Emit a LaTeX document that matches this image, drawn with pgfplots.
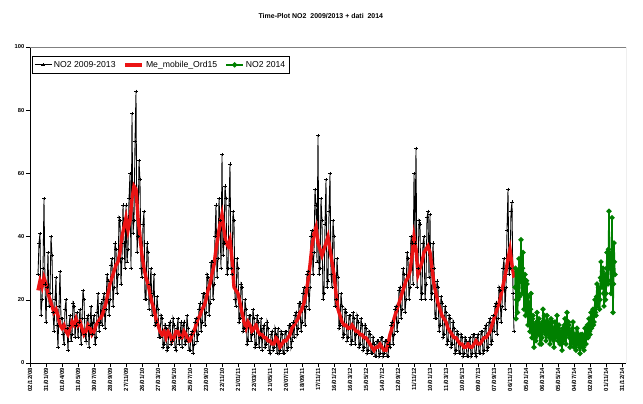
\documentclass[border=0pt]{standalone}
\usepackage{fontspec}
\setmainfont{Liberation Sans}
\usepackage{pgfplots}
\pgfplotsset{compat=1.18}
\definecolor{myred}{RGB}{235,20,20}
\definecolor{mygreen}{RGB}{0,128,0}
\begin{document}
\begin{tikzpicture}
\useasboundingbox (0,0) rectangle (643bp,404bp);
\begin{axis}[
  at={(30bp,41bp)}, anchor=south west,
  scale only axis, width=596bp, height=316bp,
  xmin=-1, xmax=73.5, ymin=0, ymax=100,
  axis lines=left, axis line style={-, black, line width=0.6bp},
  tick align=outside, major tick length=4bp,
  tick style={black, line width=0.5bp},
  ytick={0,20,40,60,80,100},
  xtick={-1,1,3,5,7,9,11,13,15,17,19,21,23,25,27,29,31,33,35,37,39,41,43,45,47,49,51,53,55,57,59,61,63,65,67,69,71,73},
  xticklabels={02/12/08,31/01/09,01/04/09,31/05/09,30/07/09,28/09/09,27/11/09,26/01/10,27/03/10,26/05/10,25/07/10,23/09/10,22/11/10,21/01/11,22/03/11,21/05/11,20/07/11,18/09/11,17/11/11,16/01/12,16/03/12,15/05/12,14/07/12,12/09/12,11/11/12,10/01/13,11/03/13,10/05/13,09/07/13,07/09/13,06/11/13,05/01/14,06/03/14,05/05/14,04/07/14,02/09/14,01/11/14,31/12/14},
  /pgf/number format/assume math mode=true,
  xticklabel style={rotate=90, anchor=east, font=\bfseries\fontsize{6}{7}\selectfont, inner sep=1bp},
  yticklabel style={font=\bfseries\fontsize{5.8}{7}\selectfont, inner sep=1.5bp},
  title={Time-Plot NO2\ \ 2009/2013 + dati\ \ 2014},
  title style={at={(0.488,1)}, anchor=center, yshift=25bp, font=\bfseries\fontsize{7}{8}\selectfont},
  legend columns=3,
  legend style={at={(0.003,0.971)}, anchor=north west, draw=black, line width=0.6bp,
    font=\fontsize{8.7}{10}\selectfont, inner xsep=2bp, inner ysep=2.5bp,
    /tikz/every even column/.append style={column sep=6bp}},
  legend cell align=left,
]
\draw[gray, line width=0.6bp] (rel axis cs:0,1) -- (rel axis cs:1,1) -- (rel axis cs:1,0);
\addplot[black, line width=0.85bp, mark=+, mark size=1.6bp, mark options={line width=0.6bp}] coordinates {
(0,28)(0.125,38)(0.25,41)(0.375,15)(0.5,20)(0.625,30)(0.75,52)(0.875,25)
(1,13)(1.125,24)(1.25,35)(1.375,18)(1.5,22)(1.625,40)(1.75,34)(1.875,16)
(2,10)(2.125,20)(2.25,27)(2.375,12)(2.5,5)(2.625,18)(2.75,29)(2.875,14)
(3,14)(3.125,9)(3.25,6)(3.375,17)(3.5,20)(3.625,11)(3.75,4)(3.875,12)
(4,15)(4.125,7)(4.25,9)(4.375,19)(4.5,18)(4.625,8)(4.75,12)(4.875,16)
(5,8)(5.125,13)(5.25,17)(5.375,6)(5.5,14)(5.625,23)(5.75,20)(5.875,9)
(6,7)(6.125,14)(6.25,15)(6.375,5)(6.5,12)(6.625,18)(6.75,9)(6.875,13)
(7,15)(7.125,6)(7.25,8)(7.375,16)(7.5,22)(7.625,10)(7.75,13)(7.875,19)
(8,12)(8.125,20)(8.25,22)(8.375,11)(8.5,17)(8.625,28)(8.75,26)(8.875,15)
(9,20)(9.125,31)(9.25,33)(9.375,18)(9.5,24)(9.625,38)(9.75,36)(9.875,22)
(10,28)(10.125,46)(10.25,45)(10.375,25)(10.5,33)(10.625,50)(10.75,38)(10.875,30)
(11,50)(11.125,32)(11.25,36)(11.375,52)(11.5,60)(11.625,30)(11.75,79)(11.875,41)
(12,45)(12.125,70)(12.25,86)(12.375,35)(12.5,40)(12.625,64)(12.75,58)(12.875,30)
(13,27)(13.125,44)(13.25,48)(13.375,20)(13.5,20)(13.625,38)(13.75,35)(13.875,17)
(14,25)(14.125,30)(14.25,15)(14.375,22)(14.5,28)(14.625,12)(14.75,13)(14.875,21)
(15,17)(15.125,8)(15.25,8)(15.375,15)(15.5,14)(15.625,5)(15.75,6)(15.875,12)
(16,11)(16.125,4)(16.25,5)(16.375,12)(16.5,13)(16.625,6)(16.75,7)(16.875,14)
(17,12)(17.125,5)(17.25,4)(17.375,11)(17.5,14)(17.625,6)(17.75,8)(17.875,13)
(18,5)(18.125,12)(18.25,13)(18.375,6)(18.5,7)(18.625,15)(18.75,11)(18.875,4)
(19,4)(19.125,9)(19.25,10)(19.375,3)(19.5,6)(19.625,13)(19.75,14)(19.875,7)
(20,9)(20.125,17)(20.25,19)(20.375,10)(20.5,13)(20.625,22)(20.75,22)(20.875,12)
(21,16)(21.125,28)(21.25,27)(21.375,15)(21.5,19)(21.625,32)(21.75,32)(21.875,20)
(22,25)(22.125,40)(22.25,50)(22.375,27)(22.5,33)(22.625,52)(22.75,45)(22.875,30)
(23,66)(23.125,34)(23.25,38)(23.375,56)(23.5,52)(23.625,28)(23.75,30)(23.875,50)
(24,63)(24.125,30)(24.25,28)(24.375,48)(24.5,45)(24.625,20)(24.75,18)(24.875,33)
(25,30)(25.125,13)(25.25,14)(25.375,25)(25.5,24)(25.625,10)(25.75,11)(25.875,20)
(26,17)(26.125,6)(26.25,7)(26.375,15)(26.5,15)(26.625,7)(26.75,9)(26.875,17)
(27,14)(27.125,5)(27.25,6)(27.375,15)(27.5,13)(27.625,5)(27.75,8)(27.875,14)
(28,4)(28.125,11)(28.25,12)(28.375,5)(28.5,6)(28.625,13)(28.75,11)(28.875,4)
(29,3)(29.125,9)(29.25,10)(29.375,4)(29.5,5)(29.625,11)(29.75,9)(29.875,3)
(30,11)(30.125,3)(30.25,4)(30.375,10)(30.5,9)(30.625,3)(30.75,3)(30.875,10)
(31,10)(31.125,4)(31.25,5)(31.375,12)(31.5,12)(31.625,5)(31.75,7)(31.875,13)
(32,8)(32.125,15)(32.25,16)(32.375,9)(32.5,11)(32.625,19)(32.75,19)(32.875,10)
(33,13)(33.125,22)(33.25,24)(33.375,12)(33.5,18)(33.625,28)(33.75,29)(33.875,17)
(34,24)(34.125,40)(34.25,42)(34.375,28)(34.5,35)(34.625,55)(34.75,50)(34.875,32)
(35,72)(35.125,28)(35.25,30)(35.375,52)(35.5,45)(35.625,20)(35.75,22)(35.875,44)
(36,58)(36.125,24)(36.25,26)(36.375,48)(36.5,60)(36.625,28)(36.75,24)(36.875,45)
(37,40)(37.125,18)(37.25,20)(37.375,33)(37.5,27)(37.625,11)(37.75,12)(37.875,22)
(38,18)(38.125,8)(38.25,9)(38.375,17)(38.5,16)(38.625,7)(38.75,8)(38.875,15)
(39,15)(39.125,6)(39.25,7)(39.375,16)(39.5,14)(39.625,6)(39.75,9)(39.875,15)
(40,13)(40.125,5)(40.25,6)(40.375,14)(40.5,12)(40.625,4)(40.75,5)(40.875,12)
(41,11)(41.125,3)(41.25,4)(41.375,10)(41.5,9)(41.625,3)(41.75,3)(41.875,8)
(42,6)(42.125,2)(42.25,2)(42.375,7)(42.5,7)(42.625,2)(42.75,3)(42.875,8)
(43,8)(43.125,2)(43.25,3)(43.375,7)(43.5,7)(43.625,2)(43.75,2)(43.875,6)
(44,5)(44.125,12)(44.25,13)(44.375,6)(44.5,9)(44.625,17)(44.75,18)(44.875,10)
(45,13)(45.125,23)(45.25,24)(45.375,14)(45.5,17)(45.625,30)(45.75,28)(45.875,16)
(46,20)(46.125,35)(46.25,33)(46.375,20)(46.5,24)(46.625,40)(46.75,38)(46.875,25)
(47,60)(47.125,38)(47.25,68)(47.375,24)(47.5,30)(47.625,45)(47.75,44)(47.875,20)
(48,22)(48.125,38)(48.25,40)(48.375,20)(48.5,25)(48.625,46)(48.75,48)(48.875,27)
(49,47)(49.125,20)(49.25,22)(49.375,38)(49.5,30)(49.625,14)(49.75,14)(49.875,26)
(50,24)(50.125,10)(50.25,12)(50.375,21)(50.5,19)(50.625,8)(50.75,9)(50.875,18)
(51,16)(51.125,6)(51.25,7)(51.375,15)(51.5,14)(51.625,5)(51.75,6)(51.875,13)
(52,11)(52.125,3)(52.25,4)(52.375,10)(52.5,9)(52.625,3)(52.75,3)(52.875,9)
(53,8)(53.125,2)(53.25,3)(53.375,8)(53.5,7)(53.625,2)(53.75,2)(53.875,7)
(54,8)(54.125,2)(54.25,3)(54.375,9)(54.5,9)(54.625,3)(54.75,2)(54.875,8)
(55,9)(55.125,3)(55.25,3)(55.375,10)(55.5,10)(55.625,3)(55.75,4)(55.875,11)
(56,12)(56.125,4)(56.25,5)(56.375,13)(56.5,14)(56.625,6)(56.75,7)(56.875,15)
(57,10)(57.125,18)(57.25,19)(57.375,9)(57.5,14)(57.625,24)(57.75,23)(57.875,13)
(58,18)(58.125,30)(58.25,33)(58.375,17)(58.5,24)(58.625,42)(58.75,55)(58.875,28)
(59,30)(59.125,48)(59.25,51)(59.375,22)(59.5,10)
};
\addlegendentry{NO2 2009-2013}
\addplot[myred, line width=3.4bp, no markers] coordinates {
(0,23)(0.25,26)(0.5,24)(0.75,27)(1,25)(1.25,22)(1.5,20)(1.75,18)(2,16)(2.25,17)(2.5,15)(2.75,12)
(3,11)(3.25,12)(3.5,10)(3.75,9)(4,11)(4.25,13)(4.5,12)(4.75,14)(5,12)(5.25,13)(5.5,11)(5.75,9)
(6,10)(6.25,12)(6.5,11)(6.75,9)(7,10)(7.25,12)(7.5,13)(7.75,14)(8,15)(8.25,17)(8.5,19)(8.75,22)
(9,25)(9.25,27)(9.5,29)(9.75,31)(10,32)(10.25,35)(10.5,40)(10.75,43)(11,46)(11.25,42)(11.5,45)(11.75,52)
(12,56)(12.25,55)(12.5,46)(12.75,40)(13,34)(13.25,30)(13.5,27)(13.75,25)(14,22)(14.25,19)(14.5,17)(14.75,14)
(15,12)(15.25,10)(15.5,9)(15.75,10)(16,8)(16.25,10)(16.5,9)(16.75,7)(17,8)(17.25,10)(17.5,10)(17.75,8)
(18,8)(18.25,10)(18.5,9)(18.75,7)(19,7)(19.25,9)(19.5,10)(19.75,12)(20,14)(20.25,15)(20.5,17)(20.75,18)
(21,20)(21.25,23)(21.5,25)(21.75,28)(22,31)(22.25,36)(22.5,40)(22.75,44)(23,47)(23.25,42)(23.5,38)(23.75,37)
(24,39)(24.25,33)(24.5,24)(24.75,23)(25,22)(25.25,19)(25.5,16)(25.75,13)(26,11)(26.25,13)(26.5,12)(26.75,10)
(27,11)(27.25,12)(27.5,10)(27.75,9)(28,9)(28.25,8)(28.5,8)(28.75,7)(29,7)(29.25,6)(29.5,6)(29.75,8)
(30,7)(30.25,5)(30.5,6)(30.75,7)(31,7)(31.25,8)(31.5,9)(31.75,11)(32,12)(32.25,13)(32.5,14)(32.75,16)
(33,17)(33.25,19)(33.5,22)(33.75,26)(34,31)(34.25,37)(34.5,41)(34.75,43)(35,38)(35.25,36)(35.5,34)(35.75,36)
(36,38)(36.25,40)(36.5,36)(36.75,32)(37,28)(37.25,22)(37.5,17)(37.75,15)(38,13)(38.25,12)(38.5,12)(38.75,11)
(39,11)(39.25,12)(39.5,11)(39.75,10)(40,10)(40.25,9)(40.5,9)(40.75,8)(41,8)(41.25,7)(41.5,6)(41.75,5)
(42,4)(42.25,5)(42.5,5)(42.75,6)(43,5)(43.25,4)(43.5,4)(43.75,6)(44,9)(44.25,11)(44.5,14)(44.75,16)
(45,18)(45.25,20)(45.5,22)(45.75,24)(46,26)(46.25,27)(46.5,29)(46.75,34)(47,40)(47.25,36)(47.5,28)(47.75,30)
(48,32)(48.25,35)(48.5,36)(48.75,37)(49,35)(49.25,30)(49.5,25)(49.75,22)(50,19)(50.25,17)(50.5,15)(50.75,14)
(51,13)(51.25,11)(51.5,10)(51.75,9)(52,8)(52.25,8)(52.5,7)(52.75,6)(53,6)(53.25,5)(53.5,5)(53.75,6)
(54,5)(54.25,5)(54.5,6)(54.75,7)(55,6)(55.25,6)(55.5,7)(55.75,8)(56,8)(56.25,9)(56.5,10)(56.75,12)
(57,14)(57.25,16)(57.5,18)(57.75,20)(58,23)(58.25,26)(58.5,29)(58.75,33)(59,36)(59.25,31)(59.5,27)
};
\addlegendentry{Me\_mobile\_Ord15}
\addplot[mygreen, line width=1.5bp, mark=*, mark size=1.8bp] coordinates {
(59.625,24)(59.6875,30)(59.75,14)(59.8125,20)(59.875,29)(59.9375,16)(60,20)(60.0625,27)
(60.125,33)(60.1875,21)(60.25,26)(60.3125,31)(60.375,39)(60.4375,28)(60.5,22)(60.5625,30)
(60.625,35)(60.6875,24)(60.75,17)(60.8125,23)(60.875,28)(60.9375,15)(61,20)(61.0625,26)
(61.125,25)(61.1875,16)(61.25,12)(61.3125,21)(61.375,19)(61.4375,13)(61.5,10)(61.5625,17)
(61.625,22)(61.6875,11)(61.75,8)(61.8125,14)(61.875,15)(61.9375,9)(62,5)(62.0625,10)
(62.125,12)(62.1875,8)(62.25,7)(62.3125,13)(62.375,16)(62.4375,11)(62.5,9)(62.5625,12)
(62.625,14)(62.6875,9)(62.75,6)(62.8125,10)(62.875,12)(62.9375,6)(63,8)(63.0625,13)
(63.125,17)(63.1875,12)(63.25,10)(63.3125,15)(63.375,13)(63.4375,9)(63.5,7)(63.5625,12)
(63.625,15)(63.6875,10)(63.75,9)(63.8125,13)(63.875,12)(63.9375,8)(64,6)(64.0625,11)
(64.125,14)(64.1875,9)(64.25,8)(64.3125,13)(64.375,11)(64.4375,7)(64.5,5)(64.5625,10)
(64.625,13)(64.6875,8)(64.75,9)(64.8125,12)(64.875,15)(64.9375,10)(65,7)(65.0625,11)
(65.125,12)(65.1875,8)(65.25,6)(65.3125,9)(65.375,10)(65.4375,6)(65.5,4)(65.5625,8)
(65.625,11)(65.6875,7)(65.75,8)(65.8125,12)(65.875,14)(65.9375,9)(66,6)(66.0625,11)
(66.125,16)(66.1875,12)(66.25,9)(66.3125,13)(66.375,12)(66.4375,8)(66.5,5)(66.5625,9)
(66.625,10)(66.6875,6)(66.75,7)(66.8125,11)(66.875,13)(66.9375,8)(67,5)(67.0625,8)
(67.125,9)(67.1875,6)(67.25,4)(67.3125,8)(67.375,11)(67.4375,7)(67.5,6)(67.5625,9)
(67.625,8)(67.6875,5)(67.75,3)(67.8125,6)(67.875,9)(67.9375,7)(68,5)(68.0625,9)
(68.125,8)(68.1875,5)(68.25,4)(68.3125,8)(68.375,11)(68.4375,8)(68.5,6)(68.5625,9)
(68.625,10)(68.6875,12)(68.75,8)(68.8125,11)(68.875,14)(68.9375,10)(69,9)(69.0625,13)
(69.125,16)(69.1875,11)(69.25,12)(69.3125,15)(69.375,17)(69.4375,12)(69.5,13)(69.5625,17)
(69.625,20)(69.6875,16)(69.75,15)(69.8125,21)(69.875,25)(69.9375,19)(70,18)(70.0625,24)
(70.125,22)(70.1875,17)(70.25,20)(70.3125,27)(70.375,32)(70.4375,26)(70.5,24)(70.5625,29)
(70.625,30)(70.6875,22)(70.75,18)(70.8125,24)(70.875,28)(70.9375,20)(71,22)(71.0625,30)
(71.125,35)(71.1875,26)(71.25,25)(71.3125,36)(71.375,48)(71.4375,35)(71.5,30)(71.5625,26)
(71.625,22)(71.6875,34)(71.75,46)(71.8125,28)(71.875,16)(71.9375,25)(72,38)(72.0625,32)
(72.125,28)
};
\addlegendentry{NO2 2014}
\end{axis}
\end{tikzpicture}
\end{document}
